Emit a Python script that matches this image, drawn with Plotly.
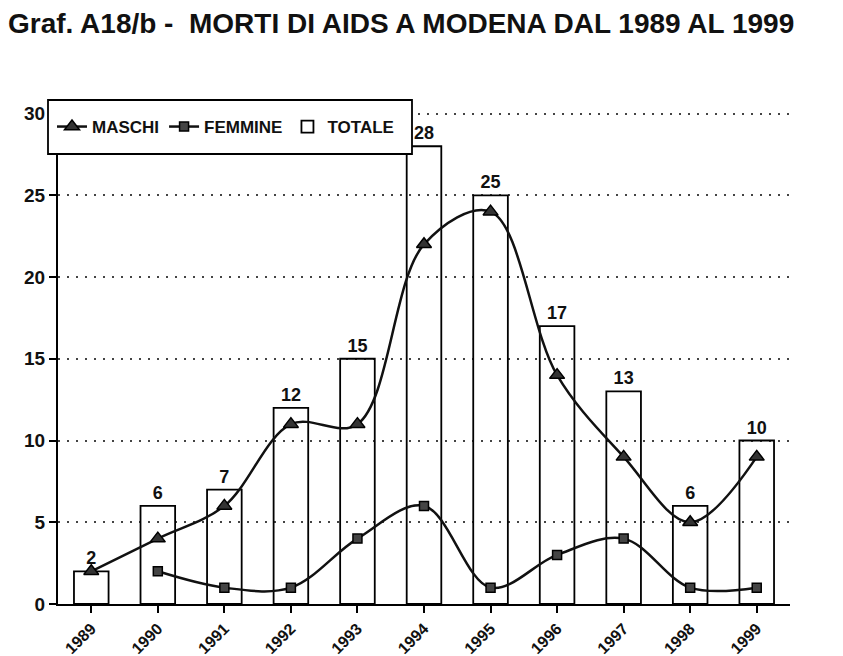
import plotly.graph_objects as go

anni = ["1989", "1990", "1991", "1992", "1993", "1994", "1995", "1996", "1997", "1998", "1999"]
totale = [2, 6, 7, 12, 15, 28, 25, 17, 13, 6, 10]
maschi = [2, 4, 6, 11, 11, 22, 24, 14, 9, 5, 9]
femmine = [None, 2, 1, 1, 4, 6, 1, 3, 4, 1, 1]
y_ticks = [0, 5, 10, 15, 20, 25, 30]

FONT = "Arial, Liberation Sans, sans-serif"

fig = go.Figure()
fig.add_trace(go.Bar(
    x=anni, y=totale, name="TOTALE", width=0.52, legendrank=3,
    marker=dict(color="rgba(255,255,255,0)", line=dict(color="#000", width=1.8)),
    text=[str(v) for v in totale], textposition="outside", cliponaxis=False,
    textfont=dict(family=FONT, size=18, color="#111", weight="bold"),
))
fig.add_trace(go.Scatter(
    x=anni, y=maschi, name="MASCHI", mode="lines+markers", legendrank=1,
    line=dict(color="#111", width=2.5, shape="spline", smoothing=1.0),
    marker=dict(symbol="triangle-up", size=13, color="#333", line=dict(color="#000", width=1.5)),
))
fig.add_trace(go.Scatter(
    x=anni, y=femmine, name="FEMMINE", mode="lines+markers", connectgaps=False, legendrank=2,
    line=dict(color="#111", width=2.5, shape="spline", smoothing=1.0),
    marker=dict(symbol="square", size=9, color="#444", line=dict(color="#000", width=1.5)),
))

L, R, T, B = 50, 61, 99, 60
W, H = 843, 656
pw, ph = W - L - R, H - T - B

def px_x(p):
    return (p - L) / pw

def px_y(p):
    return (H - B - p) / ph

fig.add_shape(type="rect", xref="paper", yref="paper",
              x0=px_x(40), x1=px_x(404), y0=px_y(146), y1=px_y(92),
              fillcolor="white", line=dict(color="#000", width=1.8), layer="above")

fig.update_layout(
    width=W, height=H,
    margin=dict(l=L, r=R, t=T, b=B, autoexpand=False),
    paper_bgcolor="white", plot_bgcolor="white",
    font=dict(family=FONT, color="#111"),
    showlegend=True,
    legend=dict(orientation="h", x=px_x(44), y=px_y(119), xanchor="left", yanchor="middle",
                bgcolor="rgba(0,0,0,0)", borderwidth=0, traceorder="normal",
                font=dict(family=FONT, size=17, color="#111", weight="bold"),
                itemwidth=30),
    title=dict(text="<b>Graf. A18/b -  MORTI DI AIDS A MODENA DAL 1989 AL 1999</b>",
               x=0.0, xref="container", xanchor="left", y=1 - 15 / H, yanchor="middle",
               pad=dict(l=0),
               font=dict(family=FONT, size=28, color="#111")),
)

fig.update_xaxes(
    type="category", showline=True, linecolor="#000", linewidth=2,
    ticks="outside", ticklen=7, tickcolor="#000", tickwidth=1.5,
    tickangle=-45, showgrid=False, automargin=False,
    tickfont=dict(family=FONT, size=16, color="#111", weight="bold"),
    range=[-0.5, 10.5],
)
fig.update_yaxes(
    range=[0, 30.4], tickvals=y_ticks, showline=True, linecolor="#000", linewidth=2,
    ticks="outside", ticklen=7, tickcolor="#000", tickwidth=1.5, automargin=False,
    showgrid=True, gridcolor="#444", gridwidth=1.8, griddash="2px,7px", zeroline=False,
    tickfont=dict(family=FONT, size=19, color="#111", weight="bold"),
)

fig.write_html("out.html")
